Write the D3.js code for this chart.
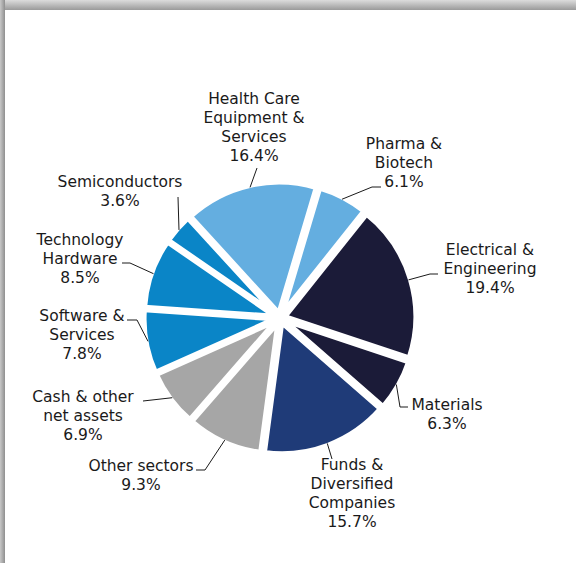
<!DOCTYPE html>
<html>
<head>
<meta charset="utf-8">
<script src="https://cdn.jsdelivr.net/npm/d3@7"></script>
<style>
  html, body { margin: 0; padding: 0; background: #fff; }
  svg { display: block; }
  text { font-family: "DejaVu Sans", Verdana, sans-serif; font-size: 15.5px; fill: #1a1a1a; }
</style>
</head>
<body>
<svg id="chart" width="576" height="563"></svg>
<script>
// Sector allocation (% of portfolio), clockwise from Pharma & Biotech
const sectors = [
  "Pharma & Biotech",
  "Electrical & Engineering",
  "Materials",
  "Funds & Diversified Companies",
  "Other sectors",
  "Cash & other net assets",
  "Software & Services",
  "Technology Hardware",
  "Semiconductors",
  "Health Care Equipment & Services"
];
const weights = [6.1, 19.4, 6.3, 15.7, 9.3, 6.9, 7.8, 8.5, 3.6, 16.4];
const labelLines = [
  ["Pharma &", "Biotech"],
  ["Electrical &", "Engineering"],
  ["Materials"],
  ["Funds &", "Diversified", "Companies"],
  ["Other sectors"],
  ["Cash & other", "net assets"],
  ["Software &", "Services"],
  ["Technology", "Hardware"],
  ["Semiconductors"],
  ["Health Care", "Equipment &", "Services"]
];
const sectorColors = [
  "#64aee0", "#1b1b38", "#1b1b38", "#1f3b78", "#a6a6a6",
  "#a6a6a6", "#0a85c7", "#0a85c7", "#0a85c7", "#64aee0"
];

// Layout: label block (centre x, first baseline) and leader route
const labelPos = [
  { x: 404, y: 149, route: [[372, 187], [381, 187]] },
  { x: 490, y: 255, route: [[430, 274], [438, 274]] },
  { x: 447, y: 410, route: [[400, 407], [408, 407]] },
  { x: 352, y: 470, route: [[332, 459]] },
  { x: 141, y: 471, route: [[205, 470], [196, 470]] },
  { x: 83,  y: 402, route: [[143, 401]] },
  { x: 82,  y: 321, route: [[137, 320], [127, 320]] },
  { x: 80,  y: 245, route: [[130, 263], [122, 263]] },
  { x: 120, y: 187, route: [[178, 197]] },
  { x: 254, y: 104, route: [[257, 168]] }
];

const W = 576, H = 563;
const cx = 280, cy = 318;
const R = 131, explode = 5, lineH = 19;
const startAngle = 16.6 * Math.PI / 180;

const svg = d3.select("#chart");

// Panel shadow along the top and left edges
const defs = svg.append("defs");
const gTop = defs.append("linearGradient").attr("id", "shTop")
  .attr("x1", 0).attr("y1", 0).attr("x2", 0).attr("y2", 1);
gTop.append("stop").attr("offset", "0%").attr("stop-color", "#dcdcdc");
gTop.append("stop").attr("offset", "100%").attr("stop-color", "#9a9a9a");
const gLeft = defs.append("linearGradient").attr("id", "shLeft")
  .attr("x1", 0).attr("y1", 0).attr("x2", 1).attr("y2", 0);
gLeft.append("stop").attr("offset", "0%").attr("stop-color", "#c8c8c8");
gLeft.append("stop").attr("offset", "100%").attr("stop-color", "#8f8f8f");
svg.append("rect").attr("x", 0).attr("y", 0).attr("width", W).attr("height", 10).attr("fill", "url(#shTop)");
svg.append("rect").attr("x", 0).attr("y", 0).attr("width", 5).attr("height", H).attr("fill", "url(#shLeft)");

const data = sectors.map((s, i) => ({ name: s, value: weights[i], lines: labelLines[i], color: sectorColors[i], pos: labelPos[i] }));

const pie = d3.pie().sort(null).value(d => d.value)
  .startAngle(startAngle).endAngle(startAngle + 2 * Math.PI);
const arcs = pie(data);
const arc = d3.arc().innerRadius(0).outerRadius(R);

const g = svg.append("g").attr("transform", `translate(${cx},${cy})`);

g.selectAll("path.slice").data(arcs).join("path")
  .attr("class", "slice")
  .attr("d", arc)
  .attr("fill", d => d.data.color)
  .attr("stroke", "#fff")
  .attr("stroke-width", 5)
  .attr("stroke-linejoin", "round")
  .attr("transform", d => {
    const a = (d.startAngle + d.endAngle) / 2;
    return `translate(${explode * Math.sin(a)},${-explode * Math.cos(a)})`;
  });

// Leader lines from each slice's outer edge to its label
const leaders = svg.append("g");
arcs.forEach(d => {
  const a = (d.startAngle + d.endAngle) / 2;
  const r = R + explode - 2;
  const p0 = [cx + r * Math.sin(a), cy - r * Math.cos(a)];
  const pts = [p0].concat(d.data.pos.route);
  leaders.append("path")
    .attr("d", d3.line()(pts))
    .attr("fill", "none")
    .attr("stroke", "#1a1a1a")
    .attr("stroke-width", 1);
});

// Labels: name lines followed by percentage
const labels = svg.append("g");
arcs.forEach(d => {
  const t = labels.append("text")
    .attr("text-anchor", "middle")
    .attr("x", d.data.pos.x).attr("y", d.data.pos.y);
  const all = d.data.lines.concat([d.data.value.toFixed(1) + "%"]);
  all.forEach((ln, i) => {
    t.append("tspan").attr("x", d.data.pos.x).attr("y", d.data.pos.y + i * lineH).text(ln);
  });
});
</script>
</body>
</html>
